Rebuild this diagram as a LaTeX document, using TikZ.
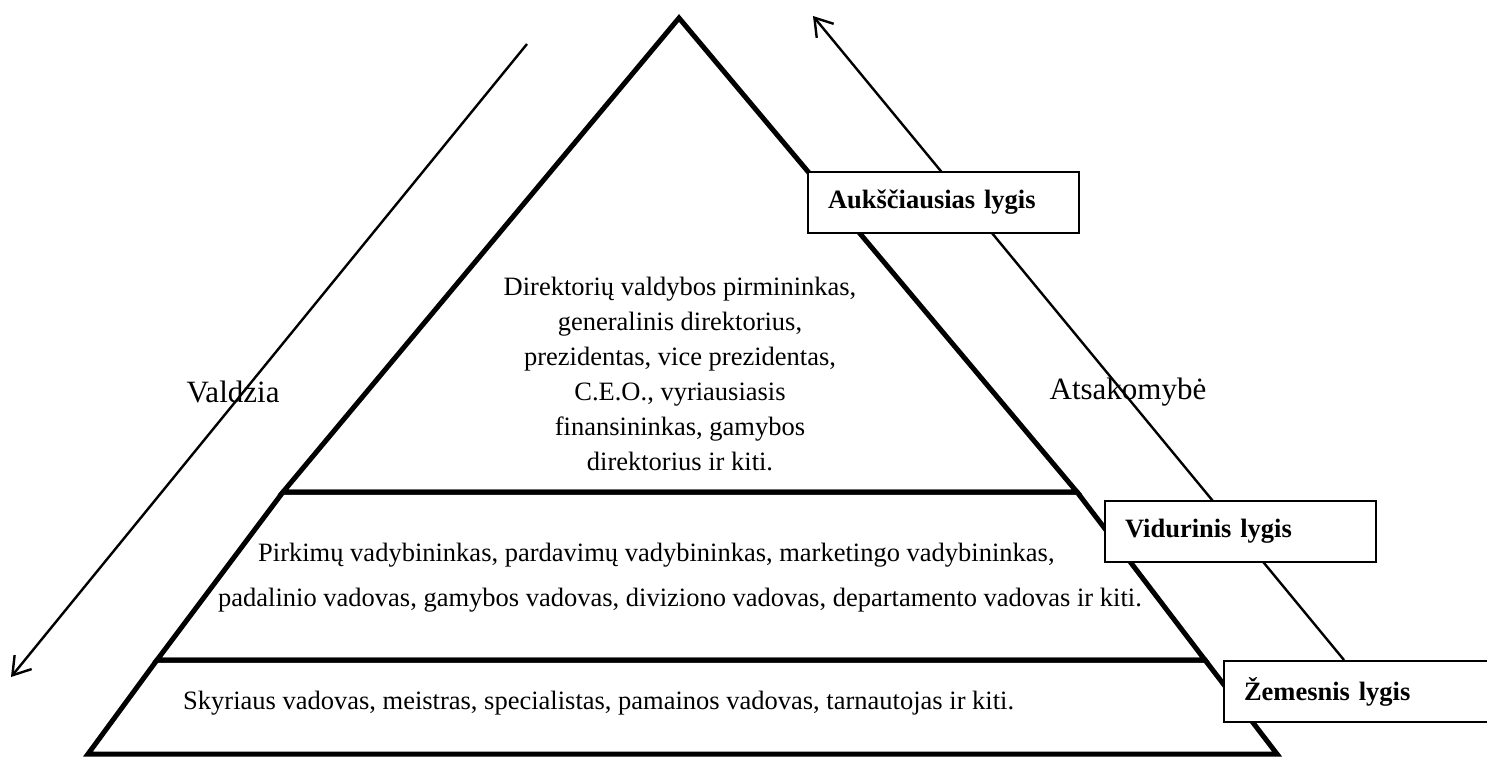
\documentclass[tikz,border=0pt]{standalone}
\usepackage{fontspec}
\setmainfont{Liberation Serif}
\usetikzlibrary{arrows.meta}
\begin{document}
\begin{tikzpicture}[x=1pt,y=-1pt,
  edge/.style={line width=5pt, line join=miter},
  pointer/.style={line width=2.4pt, -{Straight Barb[length=17pt,width=22pt,line width=2.4pt]}},
  levelbox/.style={draw, line width=2pt, fill=white, anchor=north west,
    minimum height=61pt, text width=231pt, inner xsep=20pt, inner ysep=0pt,
    align=left, font=\bfseries\fontsize{26.5}{30}\selectfont},
  body/.style={font=\fontsize{26.5}{35}\selectfont, inner sep=0pt},
  side/.style={font=\fontsize{31}{36}\selectfont, inner sep=0pt}]
\useasboundingbox (0,0) rectangle (1487,758);
\clip (0,0) rectangle (1487,758);

% pyramid corners
\coordinate (apex) at (679,18);
\coordinate (ul) at (283,492);
\coordinate (ur) at (1077,492);
\coordinate (ml) at (157,660);
\coordinate (mr) at (1205,660);
\coordinate (bl) at (88,754);
\coordinate (br) at (1277,754);

% the three levels of the pyramid
\draw[edge] (apex) -- (ur) -- (ul) -- cycle;
\draw[edge] (ul) -- (ur) -- (mr) -- (ml) -- cycle;
\draw[edge] (ml) -- (mr) -- (br) -- (bl) -- cycle;

% level descriptions
\node[body, align=center] (topText) at (680,374) {Direktorių valdybos pirmininkas,\\ generalinis direktorius,\\ prezidentas, vice prezidentas,\\ C.E.O., vyriausiasis\\ finansininkas, gamybos\\ direktorius ir kiti.};
\node[body, anchor=west] (midA) at (258,555) {Pirkimų vadybininkas, pardavimų vadybininkas, marketingo vadybininkas,};
\node[body, anchor=west] (midB) at (218,600) {padalinio vadovas, gamybos vadovas, diviziono vadovas, departamento vadovas ir kiti.};
\node[body, anchor=west] (low) at (183,703) {Skyriaus vadovas, meistras, specialistas, pamainos vadovas, tarnautojas ir kiti.};

% side labels
\node[side] (valdzia) at (233,392) {Valdzia};
\node[side] (atsak) at (1128,392) {Atsakomybė};

% authority flows down, responsibility up
\coordinate (vTop) at (527,44);
\coordinate (vBot) at (11,677);
\draw[pointer] (vTop) -- (vBot);
\coordinate (aBot) at (1344,660);
\coordinate (aTop) at (813,16);
\draw[pointer] (aBot) -- (aTop);

% level boxes
\node[levelbox] (lvlTop) at (807,171) {Aukščiausias lygis};
\node[levelbox] (lvlMid) at (1104,500) {Vidurinis lygis};
\node[levelbox, text width=300pt] (lvlLow) at (1223,660) {Žemesnis lygis};
\end{tikzpicture}
\end{document}
